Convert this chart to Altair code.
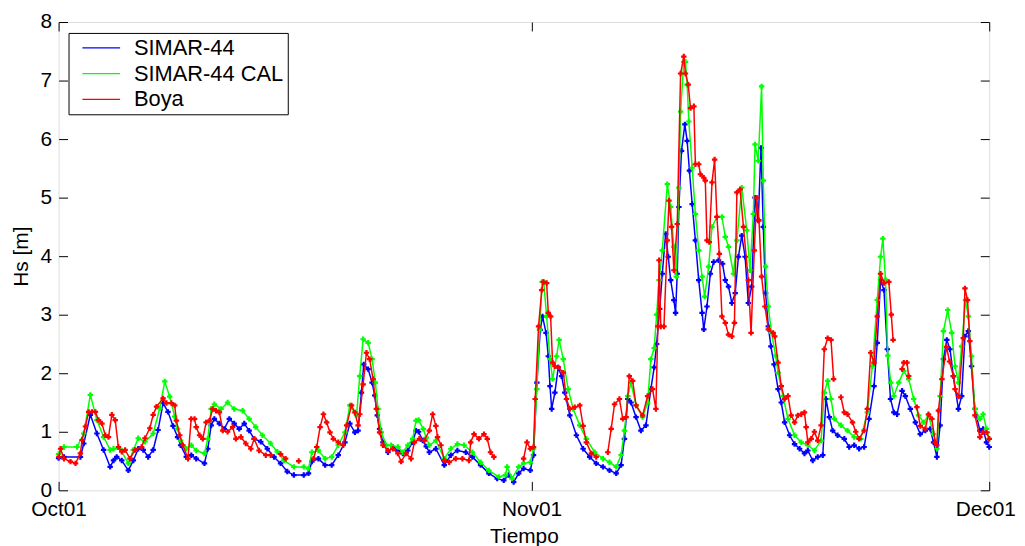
import altair as alt
import pandas as pd

# ---------------- data (day offset from 1 Oct, Hs in m) ----------------
blue_days = [0.0, 0.35, 1.43, 1.65, 2.08, 2.51, 2.95, 3.38, 3.6, 3.81, 4.14, 4.57, 4.9, 5.22, 5.55, 5.87, 6.2, 6.52, 6.85, 7.17, 7.5, 7.8,
             8.0, 8.37, 8.7, 9.02, 9.56, 9.78, 10.0, 10.21, 10.54, 10.86, 11.19, 11.51, 11.84, 12.17, 12.49, 12.82, 13.25, 13.68, 14.12,
             14.55, 14.99, 15.42, 16.07, 16.38, 16.6, 17.03, 17.47, 17.9, 18.33, 18.77, 19.09, 19.42, 19.63, 19.85, 20.0, 20.29, 20.55,
             20.72, 20.89, 21.04, 21.26, 21.59, 21.91, 22.24, 22.56, 22.89, 23.21, 23.43, 23.6, 23.87, 24.1, 24.3, 24.73, 25.28, 25.71,
             26.14, 26.69, 27.12, 27.66, 28.2, 28.75, 29.18, 29.5, 29.83, 30.16, 30.48, 30.92, 31.13, 31.35, 31.57, 31.72, 31.95, 32.1,
             32.21, 32.32, 32.53, 32.75, 32.97, 33.18, 33.51, 33.94, 34.38, 34.81, 35.24, 35.68, 36.11, 36.55, 36.87, 37.09, 37.31, 37.52,
             37.85, 38.17, 38.5, 38.82, 39.04, 39.2, 39.4, 39.57, 39.79, 39.96, 40.12, 40.33, 40.44, 40.55, 40.66, 40.83, 41.05, 41.2,
             41.35, 41.53, 41.74, 41.96, 42.18, 42.29, 42.5, 42.72, 42.94, 43.26, 43.52, 43.7, 43.91, 44.13, 44.35, 44.56, 44.78, 45.0,
             45.21, 45.43, 45.65, 45.86, 46.04, 46.19, 46.34, 46.52, 46.69, 46.9, 47.16, 47.37, 47.59, 47.92, 48.24, 48.57, 48.89, 49.11,
             49.43, 49.76, 50.09, 50.3, 50.52, 50.74, 51.06, 51.5, 51.82, 52.15, 52.47, 52.8, 53.12, 53.45, 53.66, 53.88, 54.1, 54.32,
             54.53, 54.75, 54.96, 55.29, 55.5, 55.83, 56.16, 56.48, 56.81, 57.13, 57.35, 57.57, 57.78, 58.0, 58.22, 58.43, 58.65, 58.98,
             59.19, 59.41, 59.63, 59.84, 60.06, 60.39, 60.6, 60.82, 61.0]
blue_hs = [0.55, 0.57, 0.57, 0.8, 1.29, 0.97, 0.69, 0.4, 0.51, 0.57, 0.51, 0.34, 0.51, 0.71, 0.69, 0.57, 0.69, 1.03, 1.49, 1.34, 1.1, 0.91,
           0.77, 0.57, 0.6, 0.54, 0.46, 0.71, 1.11, 1.22, 1.14, 1.05, 1.22, 1.14, 1.05, 1.14, 1.02, 0.88, 0.83, 0.71, 0.57,
           0.46, 0.32, 0.26, 0.26, 0.29, 0.49, 0.54, 0.43, 0.43, 0.6, 0.82, 1.14, 0.99, 1.02, 1.67, 2.15, 2.07, 1.84,
           1.62, 1.28, 1.05, 0.82, 0.65, 0.74, 0.68, 0.63, 0.68, 0.82, 1.02, 1.0, 0.85, 0.75, 0.65, 0.71, 0.43, 0.6,
           0.68, 0.65, 0.57, 0.43, 0.29, 0.2, 0.17, 0.26, 0.14, 0.29, 0.37, 0.34, 0.6, 1.84, 2.74, 2.97, 2.69, 2.29,
           1.78, 1.39, 1.67, 2.1, 1.95, 1.67, 1.28, 0.94, 0.71, 0.57, 0.46, 0.4, 0.34, 0.29, 0.43, 0.88, 1.56, 1.5,
           1.25, 1.02, 1.11, 1.73, 2.1, 2.5, 3.1, 3.7, 4.38, 3.99, 3.59, 3.25, 3.03, 3.7, 4.84, 5.8, 6.25, 5.97,
           5.46, 4.89, 4.27, 3.59, 3.03, 2.75, 3.14, 3.7, 3.9, 3.93, 3.87, 3.59, 3.48, 3.2, 3.37, 3.99, 4.35, 3.99,
           3.2, 3.48, 5.0, 4.61, 5.85, 4.5, 3.37, 2.8, 2.46, 2.15, 1.73, 1.5, 1.16, 0.94, 0.79, 0.71, 0.63, 0.68,
           0.51, 0.57, 0.6, 1.56, 1.25, 1.02, 0.94, 0.88, 0.74, 0.77, 0.71, 0.74, 1.22, 1.78, 2.52, 3.59, 3.42, 2.41,
           1.56, 1.33, 1.3, 1.7, 1.61, 1.39, 1.16, 0.96, 1.02, 1.05, 0.82, 0.57, 1.11, 2.24, 2.57, 2.41, 1.95, 1.39,
           1.61, 2.63, 2.72, 2.12, 1.39, 1.02, 1.05, 0.82, 0.74]

green_days = [0.0, 0.35, 1.21, 1.65, 2.08, 2.51, 2.95, 3.38, 3.6, 4.03, 4.57, 4.9, 5.22, 5.66, 6.2, 6.63, 6.96, 7.28, 7.61, 7.8, 8.0,
              8.37, 8.7, 9.02, 9.56, 9.78, 10.0, 10.21, 10.65, 11.08, 11.51, 12.06, 12.49, 12.92, 13.36, 13.9, 14.33, 14.77, 15.42,
              16.07, 16.38, 16.6, 17.03, 17.47, 17.9, 18.33, 18.77, 19.09, 19.53, 19.74, 19.96, 20.29, 20.55, 20.76, 20.94, 21.15,
              21.48, 21.8, 22.24, 22.56, 22.89, 23.21, 23.43, 23.6, 23.9, 24.1, 24.3, 24.73, 25.28, 25.71, 26.14, 26.58, 27.12, 27.66,
              28.2, 28.85, 29.29, 29.4, 29.72, 30.16, 30.48, 30.92, 31.13, 31.35, 31.52, 31.7, 31.8, 31.99, 32.21, 32.38, 32.64,
              32.81, 33.08, 33.4, 33.73, 34.16, 34.59, 35.14, 35.68, 36.11, 36.55, 36.87, 37.09, 37.31, 37.52, 37.85, 38.28, 38.61,
              38.82, 39.04, 39.2, 39.36, 39.57, 39.9, 40.12, 40.33, 40.49, 40.66, 40.77, 40.98, 41.09, 41.2, 41.31, 41.53, 41.74,
              41.96, 42.18, 42.35, 42.61, 42.83, 43.15, 43.48, 43.7, 43.91, 44.24, 44.46, 44.78, 45.11, 45.32, 45.54, 45.65, 45.86,
              46.08, 46.19, 46.34, 46.52, 46.73, 47.0, 47.16, 47.48, 47.81, 48.24, 48.68, 49.11, 49.54, 49.98, 50.19, 50.41, 50.63,
              50.84, 51.28, 51.71, 52.15, 52.58, 53.01, 53.34, 53.66, 53.88, 54.03, 54.2, 54.35, 54.55, 54.75, 55.07, 55.4, 55.72,
              56.05, 56.37, 56.7, 57.02, 57.35, 57.57, 57.78, 58.0, 58.28, 58.54, 58.76, 58.98, 59.19, 59.45, 59.63, 59.84, 60.06,
              60.39, 60.6, 60.82, 61.0]
green_hs = [0.62, 0.74, 0.74, 0.97, 1.63, 1.2, 0.91, 0.69, 0.71, 0.71, 0.46, 0.69, 0.89, 0.83, 0.97, 1.4, 1.86, 1.6, 1.26, 1.05, 0.85,
            0.71, 0.77, 0.68, 0.63, 0.88, 1.39, 1.47, 1.39, 1.5, 1.39, 1.36, 1.22, 1.08, 0.94, 0.8, 0.66, 0.51, 0.4,
            0.4, 0.37, 0.65, 0.68, 0.54, 0.57, 0.77, 0.99, 1.45, 1.28, 1.95, 2.58, 2.52, 2.24, 1.84, 1.39, 0.99,
            0.77, 0.77, 0.74, 0.65, 0.77, 0.88, 1.19, 1.2, 1.05, 0.9, 0.77, 0.85, 0.54, 0.71, 0.79, 0.77, 0.65, 0.48,
            0.34, 0.23, 0.26, 0.4, 0.2, 0.4, 0.46, 0.48, 0.71, 1.73, 2.74, 3.56, 3.56, 2.97, 2.24, 1.9, 2.29,
            2.57, 2.24, 1.73, 1.39, 1.11, 0.88, 0.65, 0.54, 0.48, 0.4, 0.6, 1.02, 1.61, 1.84, 1.45, 1.25, 1.5,
            2.24, 2.43, 3.0, 3.59, 4.1, 5.23, 4.84, 4.16, 3.65, 5.17, 6.47, 7.32, 7.32, 6.93, 6.3, 5.51, 4.72,
            4.1, 3.65, 3.31, 3.82, 4.5, 4.67, 4.67, 4.33, 4.16, 3.7, 4.27, 5.17, 4.44, 3.76, 4.72, 5.91, 5.63,
            6.9, 5.29, 3.82, 3.14, 2.69, 2.3, 2.01, 1.61, 1.22, 0.94, 0.82, 0.77, 0.68, 0.85, 1.67, 1.87, 1.56,
            1.22, 1.11, 1.02, 0.91, 0.88, 1.33, 2.12, 3.25, 3.99, 4.3, 3.6, 2.3, 1.84, 1.61, 1.84, 2.04, 1.9,
            1.56, 1.28, 1.16, 1.28, 0.96, 0.71, 1.61, 2.72, 3.08, 2.69, 2.12, 1.84, 2.46, 3.25, 2.97, 2.29, 1.39,
            1.22, 1.3, 1.05, 0.88]

# None marks a gap in the buoy record
red_days = [0.02, 0.13, 0.35, 0.78, 1.11, 1.43, 1.54, 1.76, 1.97, 2.19, 2.41, 2.62, 2.84, 3.06, 3.27, 3.49, 3.71, 3.92, 4.14, 4.36,
            4.68, 5.01, 5.44, 5.66, 5.98, 6.2, 6.42, 6.85, 7.07, 7.39, 7.61, 7.72, 7.94, 8.15, 8.48, 8.69, 8.91, 9.02, 9.24, 9.45,
            9.67, 9.89, 10.1, 10.32, 10.54, 10.76, 11.08, 11.41, 11.62, 11.95, 12.27, 12.6, 12.82, 13.14, 13.58, 13.9, None,
            14.55, 14.88, None, 15.74, None,
            16.71, 16.92, 17.14, 17.36, 17.57, 17.79, 18.01, 18.33, 18.66, 18.88, 19.2, 19.42, 19.63, 19.74, 19.96, 20.18, 20.39,
            20.61, 20.83, 21.04, 21.26, 21.59, 21.91, 22.24, 22.45, 22.78, 23.1, 23.32, 23.65, 23.97, 24.3, 24.52, 24.73, 24.84,
            25.06, 25.28, 25.6, 26.03, 26.47, 26.9, 27.01, 27.23, 27.55, 27.88, 28.1, 28.31, 28.53, None,
            30.48, 30.7, 30.92, 31.13, 31.24, 31.46, 31.67, 31.77, 31.99, 32.1, 32.25, 32.38, 32.53, 32.75, 33.08, 33.29, 33.51,
            33.83, 34.16, 34.38, 34.59, 34.92, 35.24, None,
            36.0, 36.22, 36.44, 36.76, 36.98, 37.2, 37.41, 37.63, 37.85, 38.28, 38.61, 38.93, 39.15, 39.28, 39.36, 39.47, 39.68,
            39.9, 40.01, 40.18, 40.33, 40.55, 40.77, 40.98, 41.09, 41.27, 41.42, 41.64, 41.74, 41.96, 42.07, 42.29, 42.39, 42.5,
            42.65, 42.83, 43.0, 43.15, 43.31, 43.48, 43.7, 43.91, 44.13, 44.3, 44.46, 44.67, 44.89, 45.21, 45.39, 45.6, 45.76,
            45.91, 46.08, 46.3, 46.52, 46.84, 46.94, 47.16, 47.37, 47.59, 47.81, 48.02, 48.24, 48.46, 48.68, 48.89, 49.0, 49.11,
            49.33, 49.54, 49.76, 49.98, 50.19, 50.41, 50.63, 50.8, None,
            51.28, 51.5, 51.71, 52.04, 52.25, 52.47, 52.8, 53.01, 53.23, 53.45, 53.66, 53.88, 54.1, 54.42, 54.58, 54.7, None,
            55.29, 55.4, 55.61, 55.72, None,
            56.26, 56.48, 56.81, 57.02, 57.24, 57.46, 57.57, 57.67, 57.9, 58.2, 58.4, 58.65, 58.76, 59.0, 59.3, 59.41, 59.58,
            59.73, 60.06, 60.39, 60.6, 60.82, 61.0]
red_hs = [0.57, 0.71, 0.54, 0.49, 0.46, 0.63, 0.86, 1.09, 1.34, 1.34, 1.34, 1.2, 1.14, 0.94, 0.91, 1.29, 1.2, 0.74, 0.66, 0.69,
          0.54, 0.69, 0.74, 0.89, 1.06, 1.29, 1.43, 1.57, 1.49, 1.49, 1.45, 1.19, 0.94, 0.77, 0.54, 1.22, 1.22, 1.08, 0.94, 0.88,
          1.16, 1.19, 1.39, 1.36, 1.33, 1.02, 1.0, 1.08, 0.88, 0.91, 0.8, 0.71, 0.88, 0.68, 0.6, 0.6, None,
          0.62, 0.54, None, 0.5, None,
          0.54, 0.74, 1.08, 1.3, 1.16, 0.99, 0.88, 0.82, 0.77, 1.11, 1.45, 1.33, 1.11, 1.3, 1.81, 2.35, 2.24,
          1.9, 1.39, 0.99, 0.77, 0.68, 0.71, 0.63, 0.49, 0.63, 0.54, 0.82, 0.88, 0.85, 1.02, 1.3, 1.1, 0.91,
          0.77, 0.51, 0.48, 0.54, 0.54, 0.51, 0.82, 0.96, 0.88, 0.96, 0.88, 0.65, 0.57, None,
          0.54, 0.82, 0.71, 0.74, 1.56, 2.8, 3.42, 3.56, 3.54, 3.03, 2.97, 2.18, 2.12, 2.1, 2.01, 1.56, 1.39,
          1.42, 1.45, 1.1, 0.82, 0.63, 0.57, None,
          0.65, 1.05, 1.47, 1.56, 1.22, 1.25, 1.95, 1.87, 1.45, 1.28, 1.61, 1.73, 1.39, 2.8, 3.93, 2.8, 2.8,
          4.27, 4.95, 4.5, 3.76, 4.55, 7.12, 7.41, 7.12, 6.93, 6.53, 6.56, 5.57, 5.57, 5.4, 5.34, 5.29, 4.27,
          4.24, 5.26, 5.65, 4.67, 4.04, 2.97, 2.86, 2.66, 2.63, 2.86, 5.09, 5.14, 4.5, 3.59, 2.69, 4.1, 5.0,
          4.61, 3.65, 3.14, 2.75, 2.69, 2.63, 2.18, 1.78, 1.56, 1.61, 1.28, 1.16, 1.28, 1.3, 1.33, 1.08, 0.82,
          0.88, 1.0, 0.85, 1.11, 2.41, 2.6, 2.57, 1.9, None,
          1.59, 1.33, 1.3, 1.16, 1.0, 0.88, 1.02, 1.39, 2.35, 2.18, 2.97, 3.7, 3.54, 3.56, 3.0, 2.57, None,
          2.07, 2.18, 2.18, 1.95, None,
          1.42, 1.1, 1.05, 1.3, 1.22, 0.82, 0.77, 1.36, 1.9, 2.45, 2.2, 1.95, 1.73, 1.6, 2.6, 3.45, 3.25,
          2.55, 1.28, 0.91, 0.99, 0.99, 0.88]

series_names = ["SIMAR-44", "SIMAR-44 CAL", "Boya"]
series_colors = ["#0000ff", "#00ff00", "#ff0000"]
x_tick_days = [0, 31, 61]
x_tick_labels = ["Oct01", "Nov01", "Dec01"]
y_ticks = [0, 1, 2, 3, 4, 5, 6, 7, 8]


def frame(days, hs, name):
    rows, seg = [], 0
    for d, v in zip(days, hs):
        if d is None or v is None:
            seg += 1
            continue
        rows.append({"day": d, "hs": v, "seg": seg, "series": name})
    return pd.DataFrame(rows)


FONT = "Liberation Sans"
W, H = 938, 472
xscale = alt.Scale(domain=[0, 61], nice=False, zero=False)
yscale = alt.Scale(domain=[0, 8], nice=False)
cscale = alt.Scale(domain=series_names, range=series_colors)

label_expr = " : ".join(
    f"datum.value == {d} ? '{l}'" for d, l in zip(x_tick_days, x_tick_labels)) + " : ''"

x_bottom = alt.Axis(values=x_tick_days, labelExpr=label_expr, orient="bottom", offset=-9, tickSize=9,
                    ticks=True, tickColor="black", tickWidth=1, domain=False, grid=False, labelPadding=8,
                    labelBaseline="top", labelFlush=False, labelOverlap=False, labelBound=False,
                    labelOffset={"condition": {"test": f"datum.value == {x_tick_days[-1]}", "value": -4}, "value": 0},
                    labelFontSize=21, labelColor="black", title="Tiempo", titleFontSize=21,
                    titleFontWeight="normal", titleColor="black", titleBaseline="alphabetic",
                    titleX=W / 2, titleY=62)
y_left = alt.Axis(values=y_ticks, orient="left", offset=-9, tickSize=9, ticks=True, tickColor="black",
                  tickWidth=1, domain=False, grid=False, labelPadding=7, labelFontSize=21, labelColor="black",
                  labelFlush=False, labelOverlap=False, title="Hs [m]", titleFontSize=21,
                  titleFontWeight="normal", titleColor="black", titleBaseline="alphabetic",
                  titleX=-40, titleY=H / 2, titleAngle=270)
x_top = alt.Axis(values=x_tick_days, orient="top", offset=-9, tickSize=9, ticks=True, tickColor="black",
                 tickWidth=1, domain=False, grid=False, labels=False, title=None)
y_right = alt.Axis(values=y_ticks, orient="right", offset=-9, tickSize=9, ticks=True, tickColor="black",
                   tickWidth=1, domain=False, grid=False, labels=False, title=None)

legend = alt.Legend(orient="none", legendX=10, legendY=11, title=None, symbolType="stroke",
                    symbolSize=1444, symbolStrokeWidth=1.2, symbolOffset=9, clipHeight=22,
                    labelFontSize=22, labelColor="black", labelFont=FONT, labelOffset=13,
                    padding=4, rowPadding=4, strokeColor="black", fillColor="white", cornerRadius=0)


def layer(df, with_axes, detail=False):
    enc = dict(
        x=alt.X("day:Q", scale=xscale, axis=x_bottom if with_axes else None),
        y=alt.Y("hs:Q", scale=yscale, axis=y_left if with_axes else None),
        color=alt.Color("series:N", scale=cscale, legend=legend),
    )
    if detail:
        enc["detail"] = alt.Detail("seg:N")
    return alt.Chart(df).mark_line(
        strokeWidth=1.5,
        point=alt.OverlayMarkDef(filled=True, size=30, shape="cross"),
    ).encode(**enc)


blue = layer(frame(blue_days, blue_hs, series_names[0]), True)
green = layer(frame(green_days, green_hs, series_names[1]), False)
red = layer(frame(red_days, red_hs, series_names[2]), False, detail=True)

box_df = pd.DataFrame({"day": [x_tick_days[0], x_tick_days[-1]], "hs": [y_ticks[0], y_ticks[-1]]})
box = alt.Chart(box_df).mark_point(opacity=0).encode(
    x=alt.X("day:Q", scale=xscale, axis=x_top),
    y=alt.Y("hs:Q", scale=yscale, axis=y_right),
)

chart = alt.layer(blue, green, red, box).resolve_axis(x="independent", y="independent").properties(
    width=W, height=H,
    autosize=alt.AutoSizeParams(type="none"),
    padding={"left": 51, "top": 12, "right": 28, "bottom": 54},
    background="white",
).configure_view(stroke="black", strokeWidth=1).configure(font=FONT)

chart.save("out.html", embed_options={"renderer": "svg", "actions": False})
